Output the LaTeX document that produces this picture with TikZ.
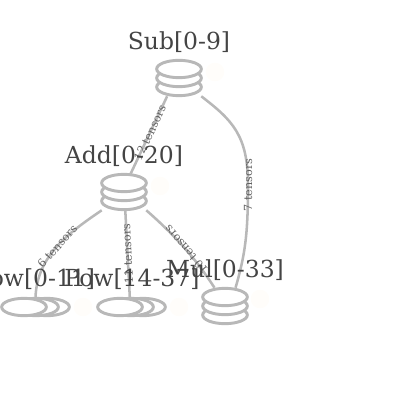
\documentclass[tikz,border=0pt]{standalone}
\usepackage{fontspec}
\setmainfont{DejaVu Serif}
\usetikzlibrary{shapes.geometric}
\definecolor{edgegray}{HTML}{B8B8B8}
\definecolor{textgray}{HTML}{444444}
\definecolor{tagtint}{HTML}{FFFDFA}
\tikzset{
    layer/.style={draw=edgegray, line width=2.2pt, fill=white, ellipse, inner sep=0pt, minimum width=33.5pt, minimum height=13pt},
    holder/.style={inner sep=0pt, minimum width=33pt, minimum height=27pt},
    wideholder/.style={inner sep=0pt, minimum width=52pt, minimum height=14pt},
    opname/.style={text=textgray, font=\fontsize{17.6}{20}\selectfont, inner sep=0pt},
    link/.style={draw=edgegray, line width=1.9pt},
    count/.style={text=black!62, font=\fontsize{8.4}{9}\selectfont, inner sep=0pt, midway},
    tag/.style={fill=tagtint, circle, inner sep=0pt, minimum size=14pt},
}
\begin{document}
\begin{tikzpicture}[x=0.75pt,y=-0.75pt]
    \useasboundingbox (0,0) rectangle (415,416);

    % boxes the links end on
    \node[holder] (sub) at (179,78) {};
    \node[holder] (add) at (124,192) {};
    \node[holder] (mul) at (225,306) {};
    \node[wideholder] (powa) at (35.5,307) {};
    \node[wideholder] (powb) at (131.5,307) {};

    \draw[link] (sub.-123) -- node[count, sloped, pos=0.47] {12 tensors} (add.70);
    \draw[link] (sub.south east) .. controls (232,120) and (248,135) .. (248,185)
        node[count, rotate=90, pos=1] {7 tensors}
        .. controls (248,235) and (245,255) .. (mul.60);
    \draw[link] (add.south west) .. controls (70,232) and (37,255) .. node[count, sloped, pos=0.5] {6 tensors} (powa.north);
    \draw[link] (powb.100) -- node[count, sloped, allow upside down, pos=0.5] {11 tensors} (add.-86);
    \draw[link] (mul.120) .. controls (198,262) and (178,238) .. node[count, sloped, allow upside down, pos=0.5] {10 tensors} (add.south east);

    % stacks
    \foreach \y in {87,78,69} {\node[layer] at (179,\y) {};}
    \foreach \y in {201,192,183} {\node[layer] at (124,\y) {};}
    \foreach \y in {315,306,297} {\node[layer] at (225,\y) {};}
    \foreach \x in {47,36,24} {\node[layer] at (\x,307) {};}
    \foreach \x in {143,131,120} {\node[layer] at (\x,307) {};}

    % pale tags
    \foreach \x/\y in {215/72,160/186,260/299,83/307,179/307} {
    \node[tag] at (\x,\y) {};}

    \node[opname] (subname) at (179,42) {Sub[0-9]};
    \node[opname] (addname) at (124,156) {Add[0-20]};
    \node[opname] (mulname) at (225,270) {Mul[0-33]};
    \node[opname] (powaname) at (35,279) {Pow[0-11]};
    \node[opname] (powbname) at (132,279) {Pow[14-37]};
\end{tikzpicture}
\end{document}
